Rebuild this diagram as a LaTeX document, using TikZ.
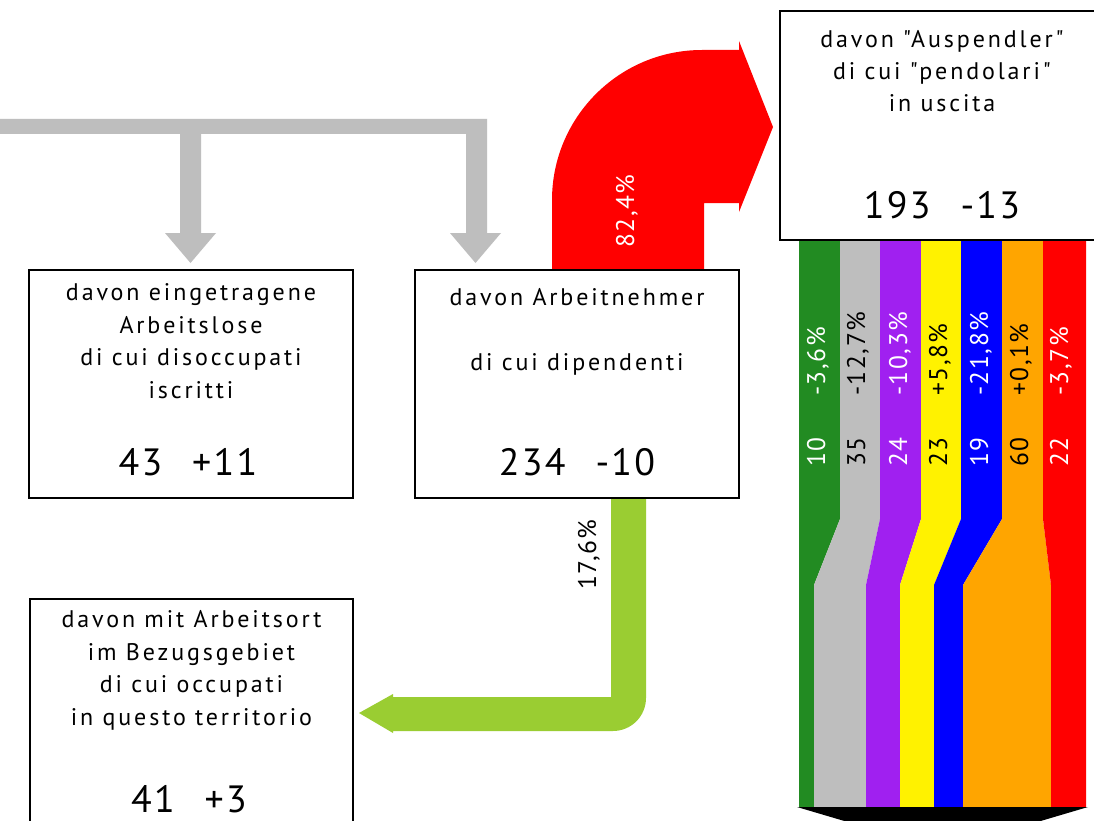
\documentclass[tikz,border=0pt]{standalone}
\usepackage{fontspec}
\setmainfont{PT Sans}[LetterSpace=6.0]
\newfontfamily\boxfont{PT Sans}[LetterSpace=12.0]
\definecolor{greybar}{RGB}{190,190,190}
\definecolor{limebar}{RGB}{154,205,50}
\definecolor{forestbar}{RGB}{34,139,34}
\definecolor{purplebar}{RGB}{160,32,240}
\definecolor{orangebar}{RGB}{255,165,0}

\begin{document}
\begin{tikzpicture}[x=1pt, y=-1pt,
	box/.style={draw=black, line width=1.6pt, fill=white, inner sep=0pt},
	txt/.style={align=center, inner sep=0pt, anchor=base, font=\boxfont\fontsize{24}{32.4}\selectfont},
	num/.style={inner sep=0pt, anchor=base, font=\fontsize{38}{40}\selectfont},
	vlbl/.style={rotate=90, anchor=base west, inner sep=0pt, font=\fontsize{25.5}{28}\selectfont}]
			%%%%% START %%%%%
			\useasboundingbox (0,0) rectangle (1094,821);
			\clip (0,0) rectangle (1094,821);
			\fill[white] (0,0) rectangle (1094,821);
			
			% grey feed from the left
			\fill[greybar] (0,119) -- (487,119) -- (487,233) -- (501,233) -- (475.5,263) -- (450,233) -- (466,233) -- (466,134)
				-- (201,134) -- (201,233) -- (216,233) -- (190.5,263) -- (165,233) -- (180,233) -- (180,134) -- (0,134) -- cycle;
			
			% red arrow to the out-commuters
			\fill[red] (552,270) -- (552,200) .. controls (552,117.2) and (619.2,50) .. (702,50) -- (739,50) -- (739,41)
				-- (773,127) -- (739,212) -- (739,203) -- (704,203) -- (704,270) -- cycle;
			\node[vlbl, white] (redpct) at (634,248) {82,4\%};
			
			% green arrow to the local workplace
			\fill[limebar] (611,497) -- (646,497) -- (646,698) .. controls (646,716.2) and (631.2,731) .. (613,731)
				-- (393,731) -- (393,733) -- (359,713) -- (393,694) -- (393,697) -- (611,697) -- cycle;
			\node[vlbl, black] (greenpct) at (596,590) {17,6\%};
			
			% coloured strips
			\fill[forestbar] (799,240) -- (840,240) -- (840,519) -- (814,585) -- (814,807) -- (799,807) -- cycle;
			\fill[greybar] (840,240) -- (880,240) -- (880,519) -- (866,585) -- (866,807) -- (814,807) -- (814,585) -- (840,519) -- cycle;
			\fill[purplebar] (880,240) -- (921,240) -- (921,519) -- (900,585) -- (900,807) -- (866,807) -- (866,585) -- (880,519) -- cycle;
			\fill[yellow] (921,240) -- (961,240) -- (961,519) -- (934,585) -- (934,807) -- (900,807) -- (900,585) -- (921,519) -- cycle;
			\fill[blue] (961,240) -- (1002,240) -- (1002,519) -- (963,585) -- (963,807) -- (934,807) -- (934,585) -- (961,519) -- cycle;
			\fill[orangebar] (1002,240) -- (1043,240) -- (1043,519) -- (1051,585) -- (1051,807) -- (963,807) -- (963,585) -- (1002,519) -- cycle;
			\fill[red] (1043,240) -- (1086,240) -- (1086,807) -- (1051,807) -- (1051,585) -- (1043,519) -- cycle;
			\fill[black] (797,807) -- (1088,807) -- (942.5,850) -- cycle;
			
			\node[vlbl, white] (n1) at (825,467) {10};
			\node[vlbl, white] (p1) at (825,396) {-3,6\%};
			\node[vlbl, black] (n2) at (865,467) {35};
			\node[vlbl, black] (p2) at (865,396) {-12,7\%};
			\node[vlbl, white] (n3) at (907,467) {24};
			\node[vlbl, white] (p3) at (907,396) {-10,3\%};
			\node[vlbl, black] (n4) at (947,467) {23};
			\node[vlbl, black] (p4) at (947,396) {+5,8\%};
			\node[vlbl, white] (n5) at (988,467) {19};
			\node[vlbl, white] (p5) at (988,396) {-21,8\%};
			\node[vlbl, black] (n6) at (1028,467) {60};
			\node[vlbl, black] (p6) at (1028,396) {+0,1\%};
			\node[vlbl, white] (n7) at (1068,467) {22};
			\node[vlbl, white] (p7) at (1068,396) {-3,7\%};
			
			% boxes
			\node[box, minimum width=324, minimum height=228] (arbeitslose) at (191,384) {};
			\node[txt] (arbeitslosetxt) at (191,398) {davon eingetragene\\Arbeitslose\\di cui disoccupati\\iscritti};
			\node[num] (arbeitslosenum) at (188,475) {43\hspace{30pt}+11};
			
			\node[box, minimum width=324, minimum height=228] (arbeitnehmer) at (577,384) {};
			\node[txt] (arbeitnehmertxt) at (577,370) {davon Arbeitnehmer\\\mbox{}\\di cui dipendenti};
			\node[num] (arbeitnehmernum) at (577,475) {234\hspace{30pt}-10};
			
			\node[box, minimum width=324, minimum height=229] (auspendler) at (942,125.5) {};
			\node[txt] (auspendlertxt) at (942,112) {davon "Auspendler"\\di cui "pendolari"\\in uscita};
			\node[num] (auspendlernum) at (942,218) {193\hspace{30pt}-13};
			
			\node[box, minimum width=323, minimum height=228] (arbeitsort) at (191.5,713) {};
			\node[txt] (arbeitsorttxt) at (191.5,725) {davon mit Arbeitsort\\im Bezugsgebiet\\di cui occupati\\in questo territorio};
			\node[num] (arbeitsortnum) at (189,812) {41\hspace{30pt}+3};
			%%%%% END %%%%%
\end{tikzpicture}
\end{document}
